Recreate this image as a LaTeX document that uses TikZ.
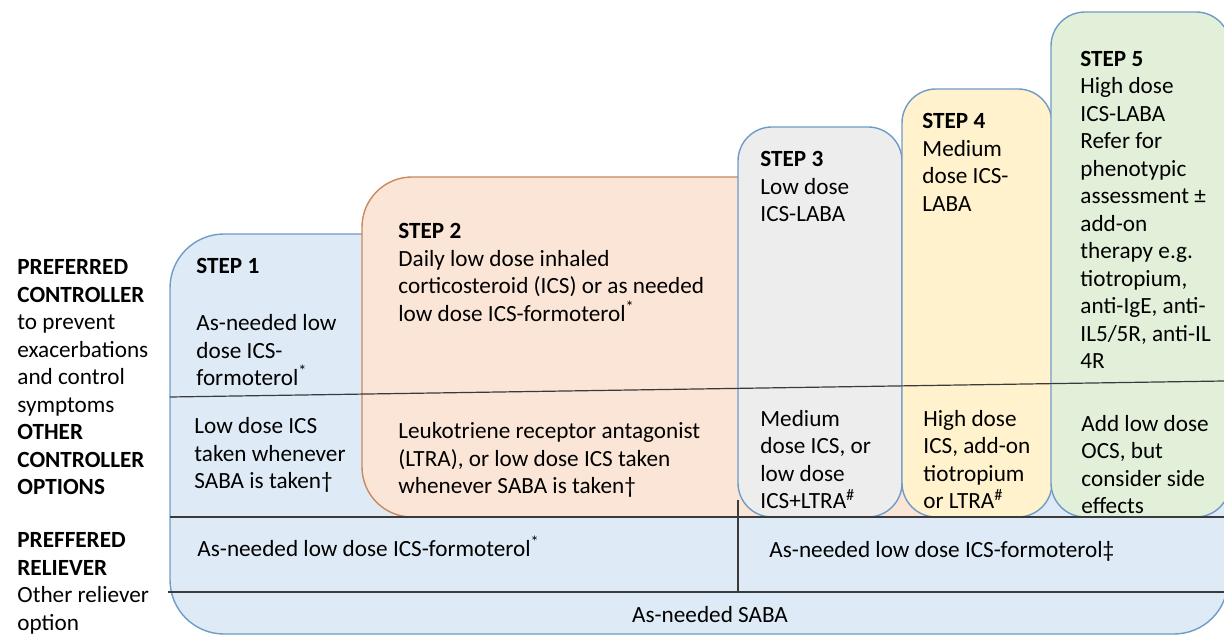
\documentclass[tikz,border=0pt]{standalone}
\usepackage{fontspec}
\setmainfont{Carlito}
\usepackage{xcolor}

\definecolor{relieffill}{HTML}{DEEBF7}
\definecolor{reliefedge}{HTML}{6F9BC8}
\definecolor{steptwofill}{HTML}{FBE5D6}
\definecolor{steptwoedge}{HTML}{C88A5E}
\definecolor{stepthreefill}{HTML}{EDEDED}
\definecolor{stepfourfill}{HTML}{FFF2CC}
\definecolor{stepfivefill}{HTML}{E2F0D9}
\definecolor{rulecolor}{HTML}{3A3A3A}

\begin{document}
\begin{tikzpicture}[
        x=0.5pt, y=-0.5pt,
        font=\fontsize{11.6}{13.75}\selectfont,
        basebox/.style={draw=reliefedge, fill=relieffill, line width=0.7pt, rounded corners=27pt},
        widebox/.style={draw=steptwoedge, fill=steptwofill, line width=0.7pt, rounded corners=25pt},
        stepbox/.style={draw=reliefedge, line width=0.7pt, rounded corners=17pt},
        divider/.style={draw=rulecolor, line width=0.6pt},
        txt/.style={anchor=north west, inner sep=0pt, align=left, yshift=6.9pt,
                execute at begin node=\strut},
        oneline/.style={anchor=north west, inner sep=0pt, yshift=9.625pt,
                execute at begin node=\strut},
    ]
    \useasboundingbox (0,0) rectangle (1224,635);
    \clip (0,0) rectangle (1224,635);

    % --- step boxes -------------------------------------------------
    \path[basebox]  (170,234) rectangle (1228,634);
    \path[widebox]  (362,177) rectangle (1000,517);
    \path[stepbox, fill=stepthreefill] (738,127) rectangle (902,517);
    \path[stepbox, fill=stepfourfill]  (902,89)  rectangle (1052,517);
    \path[stepbox, fill=stepfivefill]  (1051,12) rectangle (1230,517);

    % --- row rules --------------------------------------------------
    \draw[divider] (170,397) -- (1224,381);
    \draw[divider] (170,517) -- (1224,517);
    \draw[divider] (168,592) -- (1224,592);
    \draw[divider] (738,500) -- (738,592);

    % --- row headings -----------------------------------------------
    \node[txt] (ctrlhead) at (17,273) {\textbf{PREFERRED}\\\textbf{CONTROLLER}\\to prevent\\exacerbations\\and control\\symptoms\\\textbf{OTHER}\\\textbf{CONTROLLER}\\\textbf{OPTIONS}};
    \node[txt] (relhead) at (17,546) {\textbf{PREFFERED}\\\textbf{RELIEVER}\\Other reliever\\option};

    % --- step texts -------------------------------------------------
    \node[oneline] (s1head)  at (196,273) {\textbf{STEP 1}};
    \node[txt] (s1pref)  at (196,328) {As-needed low\\dose ICS-\\formoterol\textsuperscript{*}};
    \node[txt] (s1other) at (194,431) {Low dose ICS\\taken whenever\\SABA is taken†};

    \node[txt] (s2pref)  at (398,237) {\textbf{STEP 2}\\Daily low dose inhaled\\corticosteroid (ICS) or as needed\\low dose ICS-formoterol\textsuperscript{*}};
    \node[txt] (s2other) at (398,436) {Leukotriene receptor antagonist\\(LTRA), or low dose ICS taken\\whenever SABA is taken†};

    \node[txt] (s3pref)  at (760,165) {\textbf{STEP 3}\\Low dose\\ICS-LABA};
    \node[txt] (s3other) at (760,423.6) {Medium\\dose ICS, or\\low dose\\ICS+LTRA\textsuperscript{\#}};

    \node[txt] (s4pref)  at (922,126.8) {\textbf{STEP 4}\\Medium\\dose ICS-\\LABA};
    \node[txt] (s4other) at (923,423.6) {High dose\\ICS, add-on\\tiotropium\\or LTRA\textsuperscript{\#}};

    \node[txt] (s5pref)  at (1080,64.2) {\textbf{STEP 5}\\High dose\\ICS-LABA\\Refer for\\phenotypic\\assessment ±\\add-on\\therapy e.g.\\tiotropium,\\anti-IgE, anti-\\IL5/5R, anti-IL\\4R};
    \node[txt] (s5other) at (1081,428.7) {Add low dose\\OCS, but\\consider side\\effects};

    % --- relievers --------------------------------------------------
    \node[oneline] (relleft)  at (197,555) {As-needed low dose ICS-formoterol\textsuperscript{*}};
    \node[oneline] (relright) at (769,556.7) {As-needed low dose ICS-formoterol‡};
    \node[anchor=base, inner sep=0pt] (saba) at (710,622) {As-needed SABA};
\end{tikzpicture}
\end{document}
